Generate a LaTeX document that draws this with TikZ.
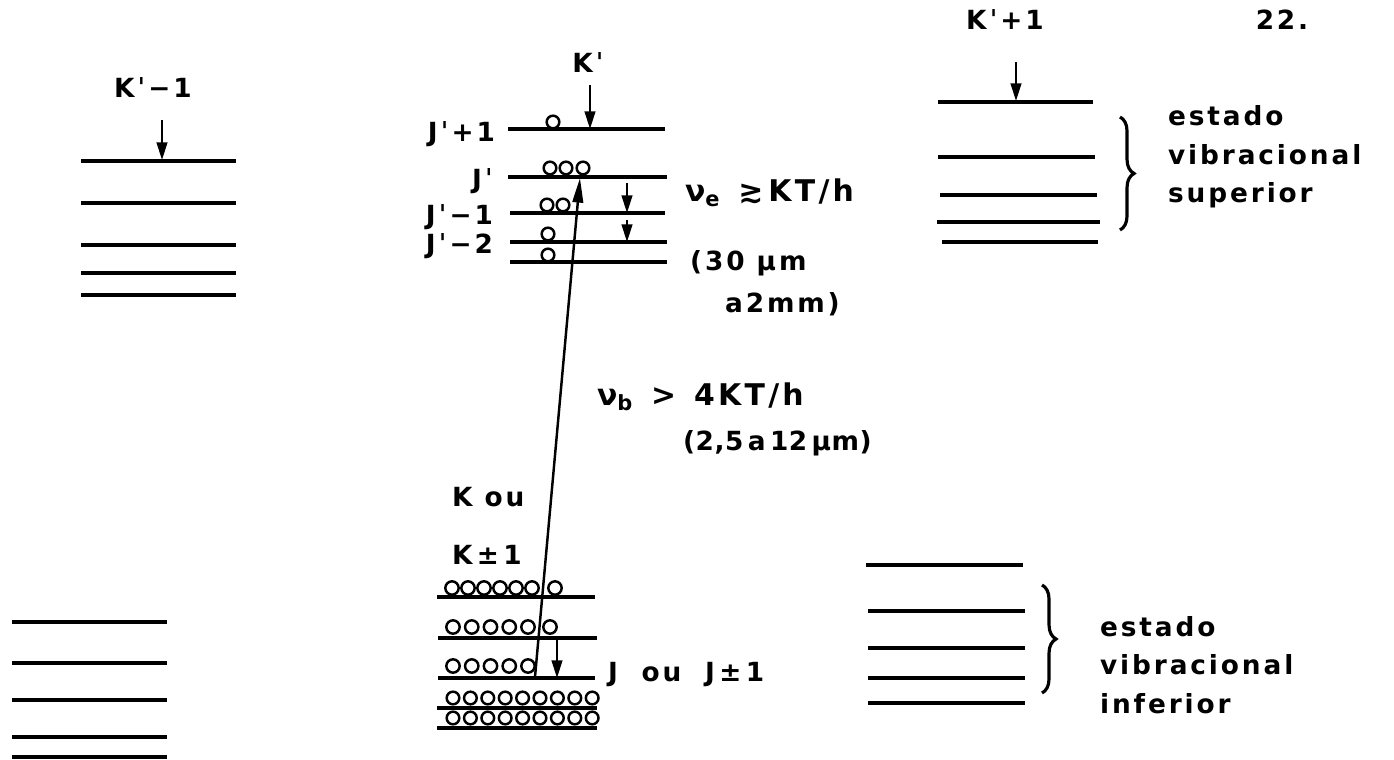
\documentclass[tikz,border=0pt]{standalone}
\usepackage{fontspec}
\setmainfont{DejaVu Sans}[LetterSpace=11]
\usetikzlibrary{arrows.meta,decorations.pathreplacing}

\tikzset{
  nivel/.style={line width=2pt},
  seta/.style={-{Triangle[length=10pt,width=6pt]}, line width=1.4pt},
  mol/.style={line width=1.4pt},
  rot/.style={font=\bfseries\fontsize{15}{22}\selectfont, inner sep=1pt},
  freq/.style={font=\bfseries\fontsize{17}{22}\selectfont, inner sep=1pt},
  chave/.style={decorate, decoration={brace, amplitude=8pt}, line width=1.8pt},
}

\begin{document}
\begin{tikzpicture}[x=0.02cm, y=-0.02cm]
    \useasboundingbox (0,0) rectangle (1394,760);

    % K'-1 (esquerda)
    \foreach \y in {161,203,245,273,295} \draw[nivel] (81,\y) -- (236,\y);
    \foreach \y in {622,663,700,737,757} \draw[nivel] (12,\y) -- (167,\y);
    \node[rot] (kpm) at (153,88) {Kˈ−1};
    \coordinate (kpm-s) at (162,120);
    \coordinate (kpm-n) at (162,160);
    \draw[seta] (kpm-s) -- (kpm-n);

    % K' (centro, estado vibracional superior)
    \draw[nivel] (508,129) coordinate (l1) -- (665,129);
    \draw[nivel] (508,177) coordinate (l2) -- (667,177);
    \draw[nivel] (510,213) coordinate (l3) -- (665,213);
    \draw[nivel] (510,242) coordinate (l4) -- (667,242);
    \draw[nivel] (510,262) coordinate (l5) -- (667,262);
    \node[rot] (kp) at (588,63) {Kˈ};
    \coordinate (kp-s) at (590,85);
    \draw[seta] (kp-s) -- (kp-s |- l1);
    \node[rot, anchor=east] (j1) at (497,134) {Jˈ+1};
    \node[rot, anchor=east] (j0) at (495,181) {Jˈ};
    \node[rot, anchor=east] (jm1) at (495,217) {Jˈ−1};
    \node[rot, anchor=east] (jm2) at (495,246) {Jˈ−2};
    \foreach \p in {(553,122),(550,168),(566,168),(583,168),(547,205),(563,205),(548,234),(548,255)}
        \draw[mol] \p circle[radius=3.6pt];
    \coordinate (e1) at (627,183);
    \coordinate (e2) at (627,220);
    \draw[seta] (e1) -- (e1 |- l3);
    \draw[seta] (e2) -- (e2 |- l4);

    % K ou K+-1 (centro, estado vibracional inferior)
    \draw[nivel] (437,597) coordinate (b1) -- (595,597);
    \draw[nivel] (438,638) coordinate (b2) -- (597,638);
    \draw[nivel] (438,678) coordinate (b3) -- (595,678);
    \draw[nivel] (437,708) coordinate (b4) -- (597,708);
    \draw[nivel] (437,728) coordinate (b5) -- (597,728);
    \foreach \i in {0,...,5} \draw[mol] (452+16*\i,588) circle[radius=3.8pt];
    \draw[mol] (555,588) circle[radius=3.8pt];
    \foreach \i in {0,...,4} \draw[mol] (453+18.75*\i,627) circle[radius=3.8pt];
    \draw[mol] (550,627) circle[radius=3.8pt];
    \foreach \i in {0,...,4} \draw[mol] (453+18.75*\i,666) circle[radius=3.8pt];
    \foreach \i in {0,...,8} {
        \draw[mol] (453+17.4*\i,698) circle[radius=3.6pt];
        \draw[mol] (453+17.4*\i,718) circle[radius=3.6pt];
    }
    \node[rot, anchor=west] (kou) at (450,497) {K ou};
    \node[rot, anchor=west] (kpm1) at (450,555) {K\,±\,1};
    \node[rot, anchor=west] (jou) at (606,675) {J\hspace{0.9em}ou\hspace{0.9em}J\,±\,1};
    \coordinate (e3) at (557,640);
    \draw[seta] (e3) -- (e3 |- b3);

    % absorcao
    \coordinate (abs-a) at (535,677);
    \coordinate (abs-b) at (580,178);
    \draw[seta, -{Triangle[length=14pt,width=6pt]}] (abs-a) -- (abs-b);

    \node[freq, anchor=west] (nue) at (683,193) {ν\textsubscript{e}\hspace{0.6em}≳\,KT/h};
    \node[rot, anchor=west] (faixae) at (688,263) {(30 μm};
    \node[rot, anchor=west] (faixae2) at (723,304) {a2mm)};
    \node[freq, anchor=west] (nub) at (595,397) {ν\textsubscript{b}\hspace{0.6em}>\hspace{0.6em}4KT/h};
    \node[rot, anchor=west] (faixab) at (681,443) {\addfontfeatures{LetterSpace=2}(2,5\,a\,12\,μm)};

    % K'+1 (direita)
    \foreach \y/\a/\b in {102/938/1093,157/938/1095,195/940/1097,222/937/1100,242/942/1098}
        \draw[nivel] (\a,\y) -- (\b,\y);
    \node[rot] (kpp) at (1005,20) {Kˈ+1};
    \coordinate (kpp-s) at (1016,62);
    \coordinate (kpp-n) at (1016,101);
    \draw[seta] (kpp-s) -- (kpp-n);
    \draw[chave] (1120,117) coordinate (c1a) -- (1120,230) coordinate (c1b);
    \node[rot, anchor=west, align=left] (sup) at (1166,157) {estado\\vibracional\\superior};
    \node[rot] (pag) at (1282,20) {22.};

    % inferior (direita)
    \foreach \y/\a/\b in {565/866/1023,611/868/1025,648/868/1025,678/868/1025,703/868/1025}
        \draw[nivel] (\a,\y) -- (\b,\y);
    \draw[chave] (1042,585) coordinate (c2a) -- (1042,693) coordinate (c2b);
    \node[rot, anchor=west, align=left] (inf) at (1098,665) {estado\\vibracional\\inferior};
\end{tikzpicture}
\end{document}
